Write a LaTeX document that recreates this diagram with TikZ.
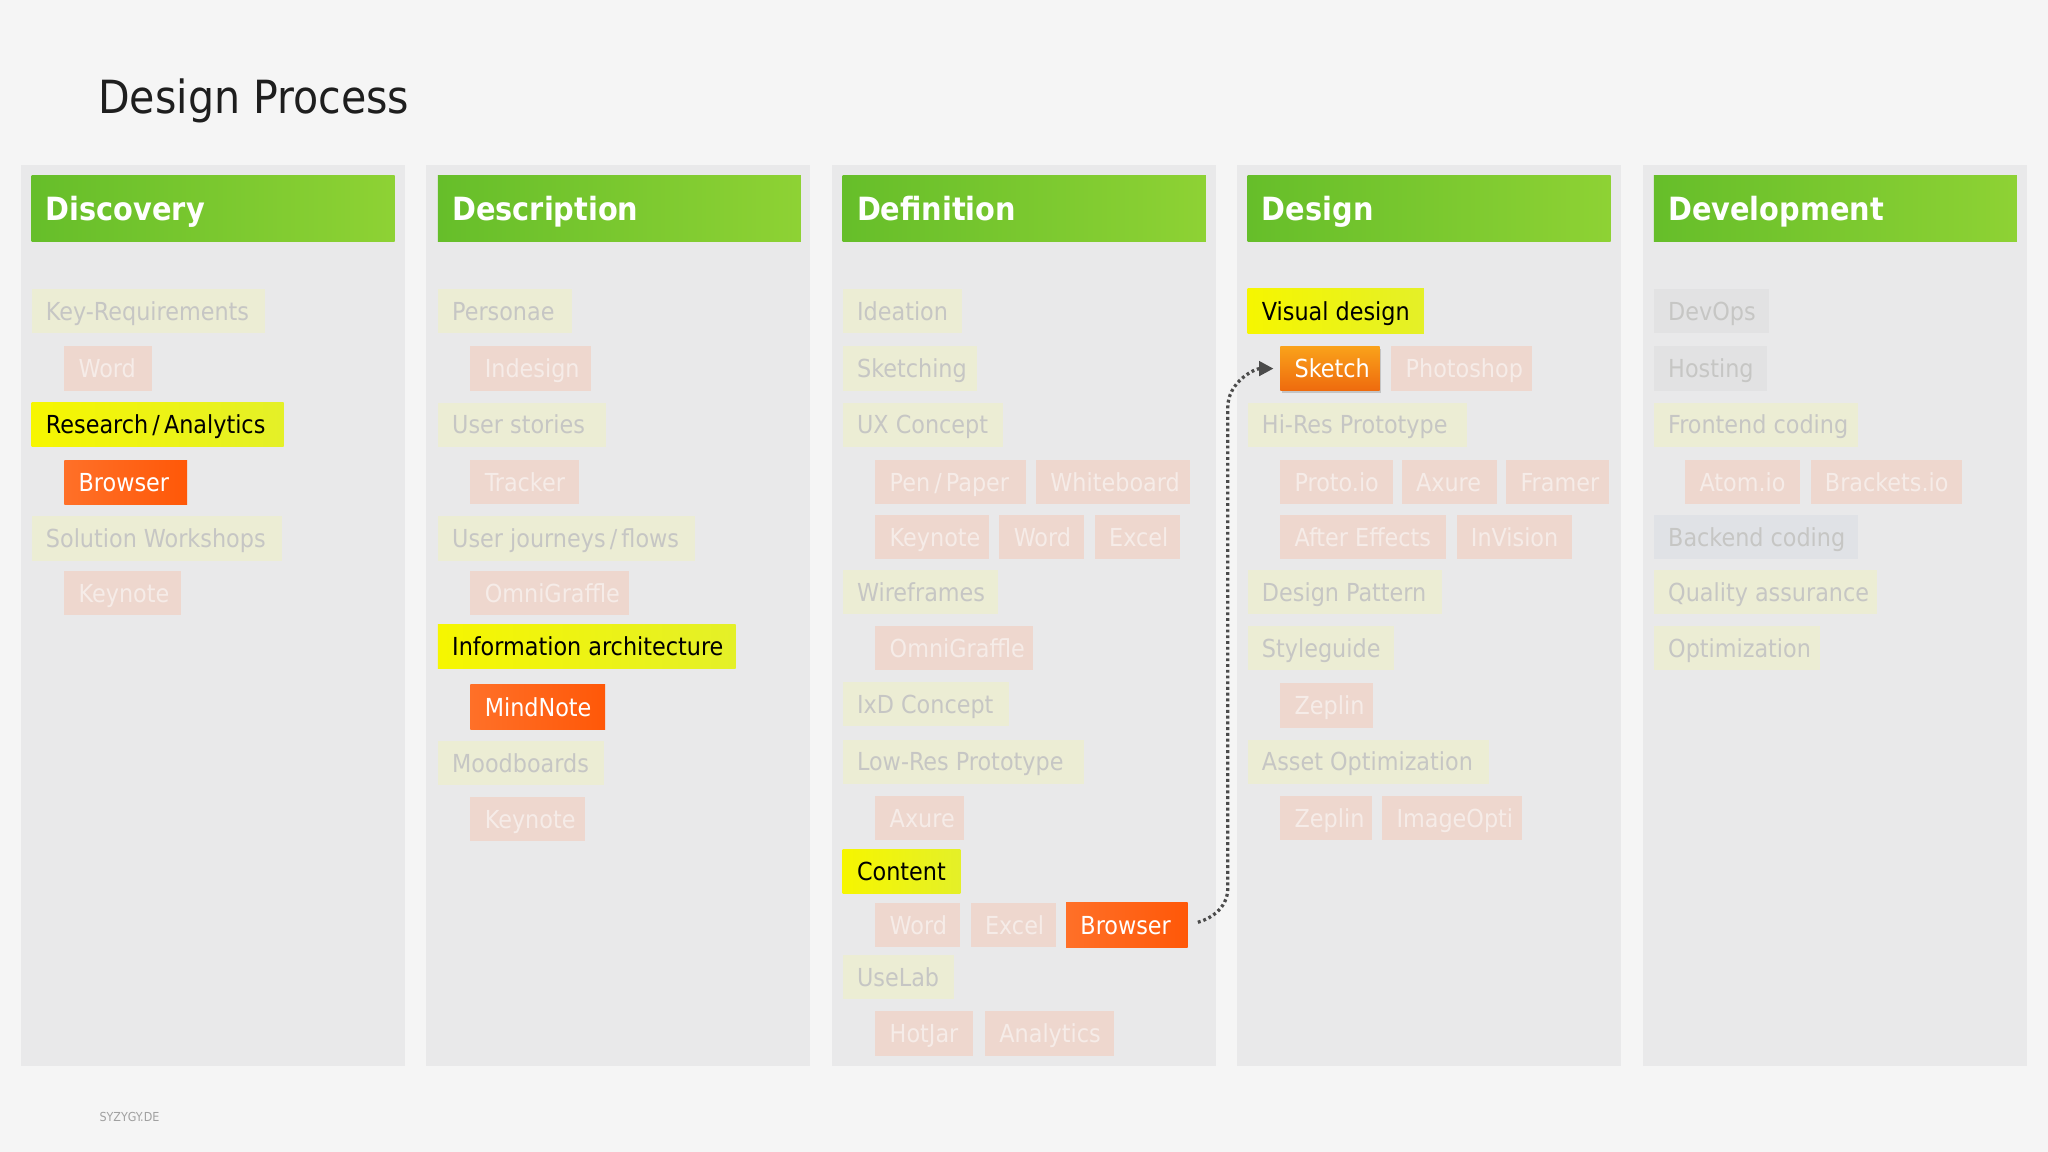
\documentclass[tikz,border=0pt]{standalone}
\usepackage{fontspec}
\setmainfont{DejaVuSansCondensed}[Extension=.ttf, BoldFont=DejaVuSansCondensed-Bold]
\usetikzlibrary{arrows.meta,shadows}
\definecolor{bg}{RGB}{245,245,245}
\definecolor{pan}{RGB}{233,233,234}
\definecolor{grn1}{RGB}{102,190,42}
\definecolor{grn2}{RGB}{142,210,52}
\definecolor{fyel}{RGB}{236,237,212}
\definecolor{forg}{RGB}{238,215,206}
\definecolor{fgry}{RGB}{226,226,227}
\definecolor{fbgr}{RGB}{224,226,230}
\definecolor{ftxt}{RGB}{198,198,196}
\definecolor{fwht}{RGB}{246,236,232}
\definecolor{yel1}{RGB}{246,246,0}
\definecolor{yel2}{RGB}{228,240,40}
\definecolor{org1}{RGB}{255,112,40}
\definecolor{org2}{RGB}{255,88,8}
\definecolor{amb1}{RGB}{250,162,26}
\definecolor{amb2}{RGB}{238,106,14}
\definecolor{conn}{RGB}{75,75,75}
\definecolor{ttl}{RGB}{30,30,30}
\definecolor{foot}{RGB}{160,160,160}
\tikzset{
  panel/.style={fill=pan, inner sep=0pt, minimum width=294pt, minimum height=690pt, anchor=north west},
  hdr/.style={left color=grn1, right color=grn2, inner xsep=11pt, inner ysep=16.5pt, text height=18pt, text depth=0pt,
    text=white, font=\fontsize{24.5}{24.5}\selectfont\bfseries, anchor=north west},
  box/.style={inner xsep=11pt, inner ysep=10pt, text height=14pt, text depth=0pt, font=\fontsize{19}{19}\selectfont},
  fy/.style={fill=fyel, text=ftxt},
  fo/.style={fill=forg, text=fwht},
  fg/.style={fill=fgry, text=ftxt},
  fb/.style={fill=fbgr, text=ftxt},
  by/.style={left color=yel1, right color=yel2, text=black},
  bo/.style={left color=org1, right color=org2, text=white},
  sk/.style={top color=amb1, bottom color=amb2, text=white, drop shadow={opacity=0.35, shadow xshift=1pt, shadow yshift=-2pt}},
  link/.style={draw=conn, line width=2.5pt, dash pattern=on 2.2pt off 2.2pt, -{Triangle[length=11pt,width=11pt,fill=conn]}, shorten <=8pt, shorten >=5pt}
}
\newcommand{\bx}[6]{\node[box,#2,anchor=north west] (#1) at (#3,#4) {\makebox[\dimexpr#5pt-22pt\relax][l]{#6}};}
\newcommand{\hd}[4]{\node[hdr] (#1) at (#2,#3) {\makebox[256pt][l]{#4}};}
\begin{document}
\begin{tikzpicture}[x=1pt,y=-1pt]
\useasboundingbox (0,0) rectangle (1568,882);
\fill[bg] (0,0) rectangle (1568,882);
\node[anchor=base west, inner sep=0pt, text=ttl, font=\fontsize{35}{35}\selectfont] (title) at (75,87) {Design Process};
\node[anchor=base west, inner sep=0pt, text=foot, font=\fontsize{9.5}{9.5}\selectfont] (footer) at (76,859) {SYZYGY.DE};
% panels
\node[panel] (p1) at (16,126) {};
\node[panel] (p2) at (326,126) {};
\node[panel] (p3) at (637,126) {};
\node[panel] (p4) at (947,126) {};
\node[panel] (p5) at (1258,126) {};
% headers
\hd{h1}{24}{134}{Discovery}
\hd{h2}{335}{134}{Description}
\hd{h3}{645}{134}{Definition}
\hd{h4}{955}{134}{Design}
\hd{h5}{1266}{134}{Development}
% Discovery
\bx{a1}{fy}{24}{221}{179}{Key-Requirements}
\bx{a2}{fo}{49}{265}{67}{Word}
\bx{a3}{by}{24}{308}{193}{Research\,/\,Analytics}
\bx{a4}{bo}{49}{352}{94}{Browser}
\bx{a5}{fy}{24}{395}{192}{Solution Workshops}
\bx{a6}{fo}{49}{437}{89}{Keynote}
% Description
\bx{b1}{fy}{335}{221}{103}{Personae}
\bx{b2}{fo}{360}{265}{92}{Indesign}
\bx{b3}{fy}{335}{308}{129}{User stories}
\bx{b4}{fo}{360}{352}{83}{Tracker}
\bx{b5}{fy}{335}{395}{197}{User journeys\,/\,flows}
\bx{b6}{fo}{360}{437}{121}{OmniGraffle}
\bx{b7}{by}{335}{478}{228}{Information architecture}
\bx{b8}{bo}{360}{524}{103}{MindNote}
\bx{b9}{fy}{335}{567}{127}{Moodboards}
\bx{b10}{fo}{360}{610}{88}{Keynote}
% Definition
\bx{c1}{fy}{645}{221}{91}{Ideation}
\bx{c2}{fy}{645}{265}{103}{Sketching}
\bx{c3}{fy}{645}{308}{123}{UX Concept}
\bx{c4}{fo}{670}{352}{115}{Pen\,/\,Paper}
\bx{c5}{fo}{793}{352}{118}{Whiteboard}
\bx{c6}{fo}{670}{394}{87}{Keynote}
\bx{c7}{fo}{765}{394}{65}{Word}
\bx{c8}{fo}{838}{394}{65}{Excel}
\bx{c9}{fy}{645}{436}{119}{Wireframes}
\bx{c10}{fo}{670}{479}{121}{OmniGraffle}
\bx{c11}{fy}{645}{522}{127}{IxD Concept}
\bx{c12}{fy}{645}{566}{185}{Low-Res Prototype}
\bx{c13}{fo}{670}{609}{68}{Axure}
\bx{c14}{by}{645}{650}{90}{Content}
\bx{c15}{fo}{670}{691}{65}{Word}
\bx{c16}{fo}{743}{691}{65}{Excel}
\bx{c17}{bo}{816}{691}{93}{Browser}
\bx{c18}{fy}{645}{731}{85}{UseLab}
\bx{c19}{fo}{670}{774}{75}{HotJar}
\bx{c20}{fo}{754}{774}{99}{Analytics}
% Design
\bx{d1}{by}{955}{221}{135}{Visual design}
\bx{d2}{sk}{980}{265}{76}{Sketch}
\bx{d3}{fo}{1065}{265}{108}{Photoshop}
\bx{d4}{fy}{955}{308}{168}{Hi-Res Prototype}
\bx{d5}{fo}{980}{352}{86}{Proto.io}
\bx{d6}{fo}{1073}{352}{73}{Axure}
\bx{d7}{fo}{1153}{352}{79}{Framer}
\bx{d8}{fo}{980}{394}{127}{After Effects}
\bx{d9}{fo}{1115}{394}{88}{InVision}
\bx{d10}{fy}{955}{436}{149}{Design Pattern}
\bx{d11}{fy}{955}{479}{112}{Styleguide}
\bx{d12}{fo}{980}{523}{71}{Zeplin}
\bx{d13}{fy}{955}{566}{185}{Asset Optimization}
\bx{d14}{fo}{980}{609}{70}{Zeplin}
\bx{d15}{fo}{1058}{609}{107}{ImageOpti}
% Development
\bx{e1}{fg}{1266}{221}{88}{DevOps}
\bx{e2}{fg}{1266}{265}{87}{Hosting}
\bx{e3}{fy}{1266}{308}{156}{Frontend coding}
\bx{e4}{fo}{1290}{352}{88}{Atom.io}
\bx{e5}{fo}{1386}{352}{116}{Brackets.io}
\bx{e6}{fb}{1266}{394}{156}{Backend coding}
\bx{e7}{fy}{1266}{436}{171}{Quality assurance}
\bx{e8}{fy}{1266}{479}{127}{Optimization}
% connector
\coordinate (k1) at (940,680);
\coordinate (k2) at (940,312);
\draw[link] (c17.east) to[out=15,in=-90] (k1) -- (k2) to[out=90,in=180] (d2.west);
\end{tikzpicture}
\end{document}
